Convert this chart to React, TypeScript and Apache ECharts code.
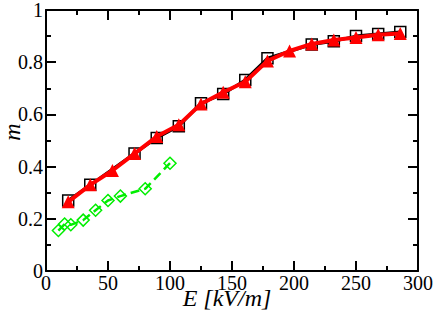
import React, { useEffect, useRef } from "react";
import * as echarts from "echarts";

const squaresX = [17.9, 35.7, 71.4, 89.3, 107.1, 125, 142.9, 160.7, 178.6, 214.3, 232.1, 250, 267.9, 285.7];
const squaresY = [0.27, 0.33, 0.45, 0.51, 0.555, 0.643, 0.678, 0.732, 0.815, 0.868, 0.88, 0.9, 0.908, 0.916];

const trianglesX = [17.9, 35.7, 53.6, 71.4, 89.3, 107.1, 125, 142.9, 160.7, 178.6, 196.4, 214.3, 232.1, 250, 267.9, 285.7];
const trianglesY = [0.265, 0.33, 0.385, 0.45, 0.515, 0.56, 0.64, 0.685, 0.725, 0.805, 0.843, 0.87, 0.885, 0.895, 0.905, 0.91];

const diamondsX = [10, 15, 20, 30, 40, 50, 60, 80, 100];
const diamondsY = [0.155, 0.18, 0.177, 0.195, 0.233, 0.27, 0.287, 0.315, 0.413];

const xTitle = "E [kV/m]";
const yTitle = "m";

const zip = (xs: number[], ys: number[]) => xs.map((x, i) => [x, ys[i]]);

const FONT = "Liberation Serif";

export default function App() {
  const ref = useRef<HTMLDivElement>(null);
  useEffect(() => {
    if (!ref.current) return;
    const chart = echarts.init(ref.current, undefined, { renderer: "svg" });
    const axisCommon = {
      axisLine: { show: true, onZero: false, lineStyle: { color: "#000", width: 2 } },
      axisTick: { show: true, inside: true, length: 10, lineStyle: { color: "#000", width: 2 } },
      minorTick: { show: true, splitNumber: 2, length: 5, lineStyle: { color: "#000", width: 2 } },
      splitLine: { show: false },
    };
    const lbl = { color: "#000", fontFamily: FONT, fontSize: 20, fontStyle: "normal", fontWeight: "normal" };
    chart.setOption({
      animation: false,
      grid: { left: 46, right: 17, top: 8, bottom: 41, containLabel: false },
      xAxis: [
        {
          type: "value", min: 0, max: 300, interval: 50, position: "bottom",
          ...axisCommon,
          axisLabel: { ...lbl, margin: 2 },
        },
        {
          type: "value", min: 0, max: 300, interval: 50, position: "top",
          ...axisCommon,
          axisLabel: { show: false },
        },
      ],
      yAxis: [
        {
          type: "value", min: 0, max: 1, interval: 0.2, position: "left",
          ...axisCommon,
          axisLabel: { ...lbl, margin: 3 },
        },
        {
          type: "value", min: 0, max: 1, interval: 0.2, position: "right",
          ...axisCommon,
          axisLabel: { show: false },
        },
      ],
      graphic: [
        {
          type: "text", x: 227, y: 298,
          style: { text: xTitle, fontFamily: FONT, fontStyle: "italic", fontSize: 24, fill: "#000", align: "center", verticalAlign: "middle" },
        },
        {
          type: "text", x: 12, y: 132, rotation: Math.PI / 2,
          style: { text: yTitle, fontFamily: FONT, fontStyle: "italic", fontSize: 24, fill: "#000", align: "center", verticalAlign: "middle" },
        },
      ],
      series: [
        {
          type: "line", data: zip(squaresX, squaresY),
          lineStyle: { color: "#000", width: 3 },
          symbol: "rect", symbolSize: 11,
          itemStyle: { color: "rgba(255,255,255,0)", borderColor: "#000", borderWidth: 1.5 },
          z: 2,
        },
        {
          type: "line", data: zip(trianglesX, trianglesY),
          lineStyle: { color: "#ff0000", width: 4 },
          symbol: "triangle", symbolSize: 13,
          itemStyle: { color: "#ff0000", borderWidth: 0 },
          z: 3,
        },
        {
          type: "line", data: zip(diamondsX, diamondsY),
          lineStyle: { color: "#00ee00", width: 2.5, type: [9, 5] },
          symbol: "diamond", symbolSize: 12,
          itemStyle: { color: "rgba(255,255,255,0)", borderColor: "#00ee00", borderWidth: 1.5 },
          z: 4,
        },
      ],
    });
    return () => chart.dispose();
  }, []);
  return (
    <div
      ref={ref}
      style={{ position: "fixed", left: 0, top: 0, width: 436, height: 312, background: "#fff" }}
    />
  );
}
